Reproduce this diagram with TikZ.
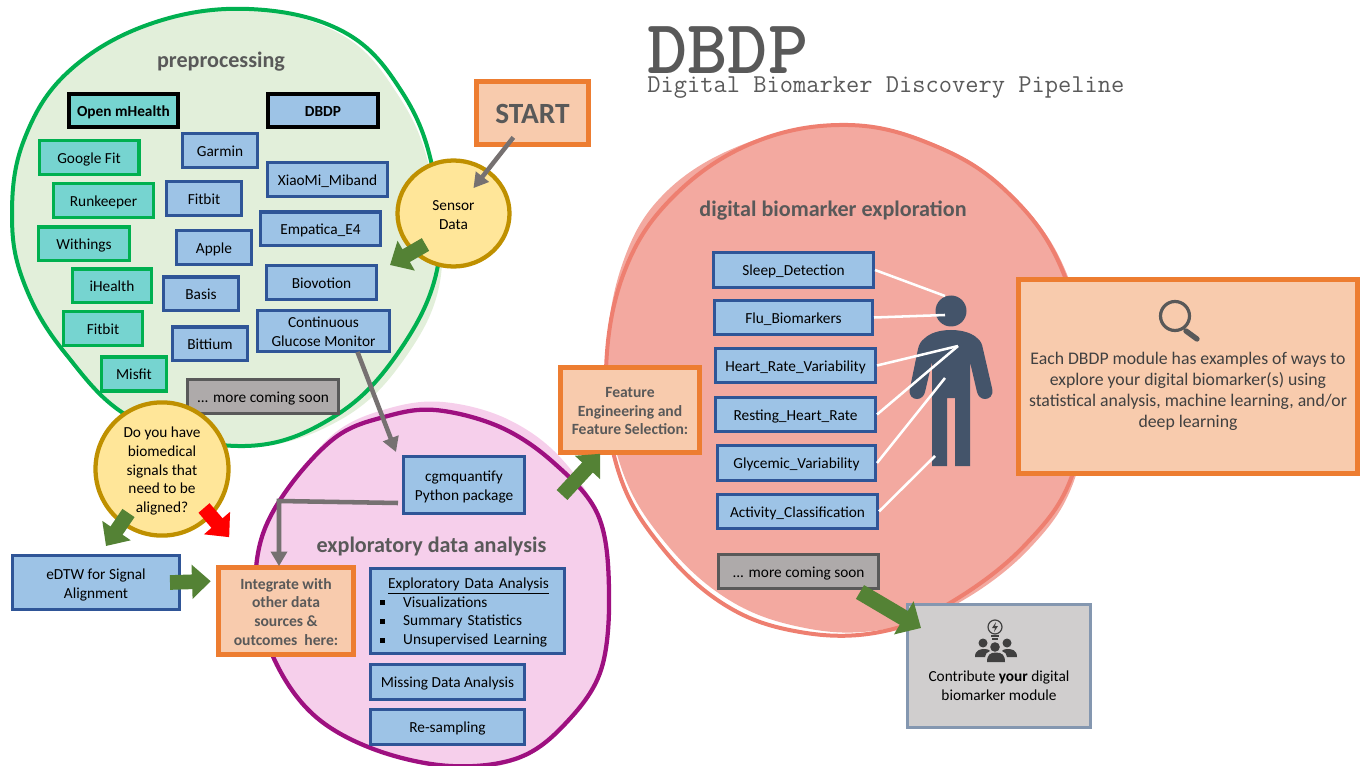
\documentclass[tikz,border=0pt]{standalone}
\usepackage{fontspec}
\setmainfont{Carlito}
\usetikzlibrary{arrows.meta,shapes.geometric}

\definecolor{greenline}{HTML}{00B050}
\definecolor{greenfill}{HTML}{E2EFDA}
\definecolor{pinkline}{HTML}{9E1080}
\definecolor{pinkfill}{HTML}{F6CFEB}
\definecolor{redline}{HTML}{EE7F70}
\definecolor{redfill}{HTML}{F3A9A0}
\definecolor{tealfill}{HTML}{76D4D0}
\definecolor{bluefill}{HTML}{9DC3E6}
\definecolor{blueline}{HTML}{2F5597}
\definecolor{greyfill}{HTML}{AEAAAA}
\definecolor{greyline}{HTML}{595959}
\definecolor{peachfill}{HTML}{F8CBAD}
\definecolor{orangeline}{HTML}{ED7D31}
\definecolor{yellowfill}{HTML}{FFE699}
\definecolor{goldline}{HTML}{BF9000}
\definecolor{arrowgreen}{HTML}{548235}
\definecolor{arrowgrey}{HTML}{767171}
\definecolor{persona}{HTML}{44546A}
\definecolor{slateline}{HTML}{8497B0}
\definecolor{lightgrey}{HTML}{D0CECE}

\tikzset{
  size/.style 2 args={minimum width=#1*0.75pt-2.6pt, minimum height=#2*0.75pt-2.6pt},
  base/.style={draw, inner sep=0pt, align=center, font=\fontsize{11.5}{14}\selectfont, execute at begin node={\rule{0pt}{.95em}}, execute at end node={\rule[-.23em]{0pt}{.23em}}},
  bluebox/.style={base, fill=bluefill, draw=blueline, line width=2.6pt},
  tealbox/.style={base, fill=tealfill, draw=greenline, line width=2.6pt},
  headbox/.style={base, draw=black, line width=3.2pt, font=\fontsize{11.5}{14}\selectfont\bfseries},
  greybox/.style={base, fill=greyfill, draw=greyline, line width=2.6pt},
  orangebox/.style={base, fill=peachfill, draw=orangeline, line width=3.8pt, text=greyline, font=\fontsize{11.7}{14}\selectfont\bfseries},
  question/.style={base, ellipse, fill=yellowfill, draw=goldline, line width=3.2pt},
  bigarrow/.style={draw=arrowgreen, line width=11pt, -{Triangle[length=14pt,width=25pt]}},
  thinarrow/.style={draw=arrowgrey, line width=3.4pt, -{Triangle[length=11pt,width=12pt]}},
  whiteline/.style={draw=white, line width=1.9pt},
  title/.style={inner sep=0pt, text=greyline, font=\fontsize{16.6}{18}\selectfont\bfseries},
}
\newcommand{\bul}{\makebox[18.75pt][l]{\hspace{1.5pt}\rule[1.5pt]{3.6pt}{3.6pt}}}
\newcommand{\lift}{\rule{0pt}{12pt}}

\begin{document}
\begin{tikzpicture}[x=0.75pt,y=-0.75pt]
\useasboundingbox (0,0) rectangle (1363,766);

% preprocessing blob
\fill[greenfill] plot[smooth cycle, tension=0.65] coordinates {(249,10) (342,35) (398,95) (430,170) (441,275) (405,358) (340,420) (245,447) (135,420) (65,353) (24,283) (12,215) (24,140) (68,72) (150,25)};
\draw[greenline, line width=3pt] plot[smooth cycle, tension=0.65] coordinates {(249,9) (344,32) (402,92) (433,170) (438,265) (400,350) (335,416) (245,446) (135,420) (65,353) (24,283) (12,215) (24,140) (68,72) (150,24)};

% exploratory blob
\fill[pinkfill] plot[smooth cycle, tension=0.6] coordinates {(443,402) (505,418) (558,455) (598,515) (609,590) (601,670) (565,724) (518,760) (450,769) (376,750) (316,717) (277,665) (257,600) (261,540) (289,487) (336,432) (390,408)};
\draw[pinkline, line width=3.2pt] plot[smooth cycle, tension=0.6] coordinates {(435,410) (500,427) (554,463) (598,515) (609,590) (601,670) (565,724) (518,758) (450,766) (376,750) (316,717) (277,665) (257,600) (261,540) (289,487) (336,437) (384,417)};

% exploration blob
\fill[redfill] plot[smooth cycle, tension=0.65] coordinates {(848,124) (935,144) (1007,190) (1063,265) (1088,370) (1076,475) (1030,548) (953,606) (880,630) (805,628) (729,600) (664,541) (621,467) (606,370) (622,265) (668,190) (752,141)};
\draw[redline, line width=3pt] plot[smooth cycle, tension=0.65] coordinates {(848,125) (933,145) (1005,190) (1060,265) (1085,370) (1073,473) (1025,545) (950,603) (880,632) (800,632) (725,605) (660,545) (618,470) (606,370) (625,270) (675,195) (755,142)};

% title
\node[anchor=base west, inner sep=0pt, text=greyline, font=\fontsize{57.5}{58}\ttfamily\bfseries\addfontfeature{FakeBold=3}] (dbdptitle) at (647,74) {DBDP};
\node[anchor=base west, inner sep=0pt, text=greyline, font=\fontsize{19.3}{20}\ttfamily] (subtitle) at (647,93) {Digital Biomarker Discovery Pipeline};

% circle titles
\node[title] (preproc) at (221,62) {preprocessing};
\node[title] (explor) at (431.5,546) {exploratory data analysis};
\node[title] (digital) at (833,211) {digital biomarker exploration};

% start
\node[orangebox, size={116}{66}, font=\fontsize{22}{24}\selectfont\bfseries] (start) at (532.5,113) {START};
\node[question, minimum width=112*0.75pt, minimum height=106*0.75pt] (sensor) at (453.5,213.5) {\lift Sensor\\Data};

% column heads
\node[headbox, fill=tealfill, size={113}{37}] (openmh) at (123.5,110.5) {Open mHealth};
\node[headbox, fill=bluefill, size={114}{37}] (dbdp) at (323,110.5) {DBDP};

% open mhealth modules
\node[tealbox, size={103}{37}] (googlefit) at (89,157.5) {Google Fit};
\node[tealbox, size={103}{37}] (runkeeper) at (103.5,200.5) {Runkeeper};
\node[tealbox, size={94}{37}] (withings) at (84,244) {Withings};
\node[tealbox, size={82}{37}] (ihealth) at (112,286) {iHealth};
\node[tealbox, size={82}{37}] (fitbitg) at (103,328.5) {Fitbit};
\node[tealbox, size={68}{37}] (misfit) at (134,374) {Misfit};

% dbdp modules
\node[bluebox, size={78}{37}] (garmin) at (220,150.5) {Garmin};
\node[bluebox, size={78}{37}] (fitbit) at (204,198.5) {Fitbit};
\node[bluebox, size={78}{37}] (apple) at (214,247.5) {Apple};
\node[bluebox, size={78}{37}] (basis) at (201,294) {Basis};
\node[bluebox, size={78}{37}] (bittium) at (210,344) {Bittium};
\node[bluebox, size={123}{37}] (xiaomi) at (327.5,179.5) {XiaoMi\_Miband};
\node[bluebox, size={123}{37}] (empatica) at (320.5,229) {Empatica\_E4};
\node[bluebox, size={113}{37}] (biovotion) at (321.5,282.5) {Biovotion};
\node[bluebox, size={135}{44}] (glucose) at (323.5,331) {\lift Continuous\\Glucose Monitor};
\node[greybox, size={154}{37}] (moreleft) at (263,396.5) {... more coming soon};

% alignment
\node[question, minimum width=133*0.75pt, minimum height=129*0.75pt] (doyou) at (162,469) {\lift Do you have\\biomedical\\signals that\\need to be\\aligned?};
\node[bluebox, size={170}{57}] (edtw) at (96,582.5) {\lift eDTW for Signal\\Alignment};
\node[orangebox, size={138}{90}] (integrate) at (286,611) {\lift Integrate with\\other data\\sources \&\\outcomes~ here:};

% exploratory modules
\node[bluebox, size={124}{60}] (cgm) at (464,485) {\lift cgmquantify\\Python package};
\node[bluebox, size={197}{88}, align=left, text width=134pt] (eda) at (467.5,611) {\hspace*{7.5pt}\underline{Exploratory Data Analysis}\\\bul Visualizations\\\bul Summary Statistics\\\bul Unsupervised Learning};
\node[bluebox, size={157}{38}] (missing) at (447.5,682) {Missing Data Analysis};
\node[bluebox, size={157}{38}] (resample) at (447.5,727) {Re-sampling};

\node[orangebox, size={142}{88}] (feature) at (630,410) {\lift Feature\\Engineering and\\Feature Selection:};

% biomarker modules
\node[bluebox, size={163}{38}] (sleep) at (793.5,270) {Sleep\_Detection};
\node[bluebox, size={161}{37}] (flu) at (793.5,317.5) {Flu\_Biomarkers};
\node[bluebox, size={163}{37}] (heart) at (795.5,365.5) {Heart\_Rate\_Variability};
\node[bluebox, size={163}{37}] (resting) at (795.5,414.5) {Resting\_Heart\_Rate};
\node[bluebox, size={161}{38}] (glycemic) at (796.5,463) {Glycemic\_Variability};
\node[bluebox, size={163}{37}] (activity) at (797.5,511.5) {Activity\_Classification};
\node[greybox, size={163}{37}] (moreright) at (798.5,571.5) {... more coming soon};

% person
\fill[persona] (951,311) circle (15.5);
\fill[persona] (951,330) .. controls (938,330) and (929,334) .. (925,338) .. controls (921,341) and (919,344) .. (918,349) -- (910,388) .. controls (908,396) and (913,399) .. (917,399) .. controls (921,399) and (924,396) .. (925,392) -- (932,362) -- (932,466) -- (947,466) -- (947,398) -- (955,398) -- (955,466) -- (970,466) -- (970,362) -- (977,392) .. controls (978,396) and (981,399) .. (985,399) .. controls (989,399) and (994,396) .. (992,388) -- (983,349) .. controls (982,344) and (981,341) .. (977,338) .. controls (973,334) and (964,330) .. (951,330) -- cycle;

% lines to the person
\coordinate (sleepend) at (945,296);
\coordinate (fluend) at (945,315);
\coordinate (heartend) at (958,346);
\coordinate (glycemicend) at (945,378);
\coordinate (activityend) at (935,456);
\draw[whiteline] (sleep.east) -- (sleepend);
\draw[whiteline] (flu.east) -- (fluend);
\draw[whiteline] (heart.east) -- (heartend);
\draw[whiteline] (resting.east) -- (heartend);
\draw[whiteline] (glycemic.east) -- (glycemicend);
\draw[whiteline] (activity.east) -- (activityend);

% explanation box
\node[orangebox, size={342}{197}] (examples) at (1188,376.5) {};
\node[inner sep=0pt, align=center, text=black!75, font=\fontsize{13.3}{15.8}\selectfont] (examplestxt) at (1188,391) {Each DBDP module has examples of ways to\\explore your digital biomarker(s) using\\statistical analysis, machine learning, and/or\\deep learning};
\draw[greyline, line width=2.4pt] (1175,316) circle (14.5);
\draw[greyline, line width=4pt, line cap=round] (1186,331) -- (1197,339);

% contribute box
\node[base, fill=lightgrey, draw=slateline, line width=2.6pt, size={186}{126}] (contribute) at (999,666) {};
\node[inner sep=0pt, align=center, font=\fontsize{11.5}{14}\selectfont] (contributetxt) at (999,686) {Contribute \textbf{your} digital\\biomarker module};
\draw[black!75, line width=0.9pt] (995,627) circle (7);
\draw[black!75, line width=0.9pt] (991,636) -- (999,636) (992,639) -- (998,639);
\fill[black!75] (996,622) -- (992,628) -- (995,628) -- (994,632) -- (998,626) -- (995,626) -- cycle;
\fill[black!75] (983,643) circle (4.5) (1007,643) circle (4.5) (995,647) circle (4.8);
\fill[black!75] (975,657) .. controls (975,650) and (980,649) .. (985,649) .. controls (988,649) and (989,650) .. (990,651) .. controls (987,652) and (985,654) .. (985,657) -- cycle;
\fill[black!75] (1017,657) .. controls (1017,650) and (1012,649) .. (1007,649) .. controls (1004,649) and (1003,650) .. (1002,651) .. controls (1005,652) and (1007,654) .. (1007,657) -- cycle;
\fill[black!75] (987,662) .. controls (987,655) and (990,652.5) .. (996,652.5) .. controls (1002,652.5) and (1005,655) .. (1005,662) -- cycle;

% grey arrows
\coordinate (elbow) at (279,501);
\draw[thinarrow, shorten <=-9pt, shorten >=-18pt] (start) -- (sensor);
\draw[thinarrow] ([shift={(34,-1)}]glucose.south) -- ([shift={(-6,-3)}]cgm.north west);
\draw[thinarrow] ([shift={(-4,18)}]cgm.west) -- (elbow) -- ([shift={(-7,1)}]integrate.north);

% block arrows
\coordinate (devicein) at (390,265);
\coordinate (edaout) at (562,495);
\draw[bigarrow] ([shift={(-28,31)}]sensor.center) -- (devicein);
\draw[bigarrow] ([shift={(-33.5,44)}]doyou.center) -- ([shift={(10,-8)}]edtw.north);
\draw[bigarrow, draw=red] ([shift={(42,39)}]doyou.center) -- ([shift={(13,-28)}]integrate.north west);
\draw[bigarrow] ([shift={(-11,0)}]edtw.east) -- ([shift={(-5.5,16)}]integrate.north west);
\draw[bigarrow] (edaout) -- ([shift={(42,-1)}]feature.south west);
\draw[bigarrow, line width=12pt, -{Triangle[length=15pt,width=28pt]}] ([shift={(-20,2)}]moreright.south east) -- ([shift={(15,25)}]contribute.north west);

\end{tikzpicture}
\end{document}
